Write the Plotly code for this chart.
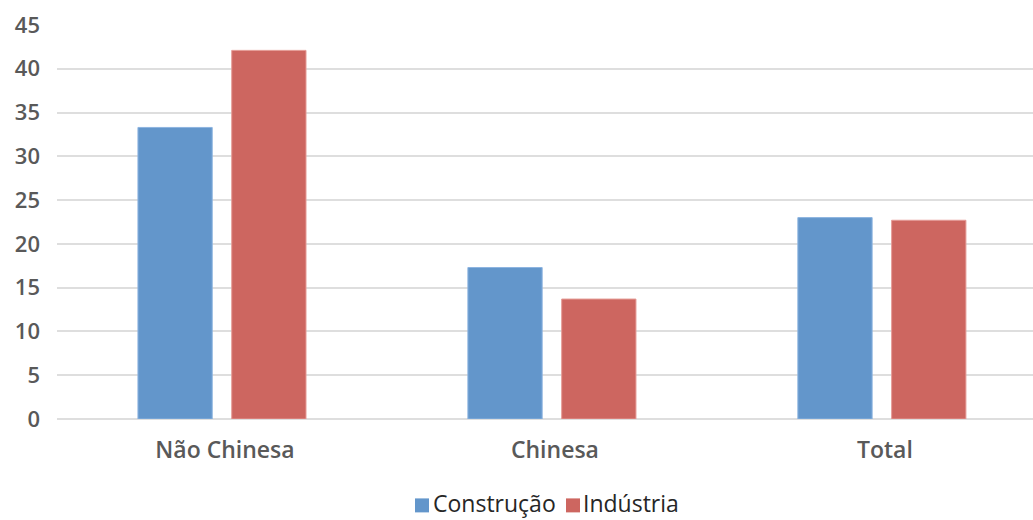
import plotly.graph_objects as go

categories = ["Não Chinesa", "Chinesa", "Total"]
construcao = [33.3, 17.3, 23.0]
industria = [42.1, 13.7, 22.7]
y_ticks = [0, 5, 10, 15, 20, 25, 30, 35, 40, 45]

series = [
    ("Construção", construcao, "#6396CB", "#8DB4E0"),
    ("Indústria", industria, "#CD6660", "#E59B96"),
]

W, H = 1033, 520
M = dict(l=57, r=0, t=25, b=100.5)
plot_w = W - M["l"] - M["r"]
plot_h = H - M["t"] - M["b"]


def px_x(x):
    return (x - M["l"]) / plot_w


def px_y(y):
    return (H - M["b"] - y) / plot_h


fig = go.Figure()
for name, vals, fill, edge in series:
    fig.add_trace(go.Bar(
        name=name, x=categories, y=vals,
        marker=dict(color=fill, line=dict(color=edge, width=1)),
        showlegend=False,
    ))

# Legend drawn as coloured squares with labels beside them
shapes = []
annotations = []
legend_items = [(432, 415), (582, 566)]
for (text_x, sq_x), (name, _, fill, _) in zip(legend_items, series):
    shapes.append(dict(
        type="rect", xref="paper", yref="paper",
        x0=px_x(sq_x), x1=px_x(sq_x + 14), y0=px_y(513), y1=px_y(499),
        fillcolor=fill, line=dict(width=0),
    ))
    annotations.append(dict(
        text=name, xref="paper", yref="paper",
        x=px_x(text_x), y=px_y(503.5), xanchor="left", yanchor="middle",
        showarrow=False, borderpad=0,
        font=dict(family="Open Sans", size=23, color="#262626"),
    ))

fig.update_layout(
    width=W, height=H,
    margin=dict(l=M["l"], r=M["r"], t=M["t"], b=M["b"], autoexpand=False),
    paper_bgcolor="white", plot_bgcolor="white",
    barmode="group", bargap=0.4315, bargroupgap=0.208,
    font=dict(family="Open Sans", size=20, color="#595959"),
    showlegend=False,
    shapes=shapes,
    annotations=annotations,
    xaxis=dict(
        range=[-0.5, 2.458], showgrid=False, showline=False, ticks="",
        ticklabelstandoff=15, ticklabelshift=3,
        tickfont=dict(family="Open Sans", size=23, color="#595959", weight=600),
    ),
    yaxis=dict(
        range=[0, 45], tickvals=y_ticks, showgrid=True,
        gridcolor="#DEDEDE", gridwidth=1.5,
        zeroline=True, zerolinecolor="#DEDEDE", zerolinewidth=1.5,
        ticks="", ticklabelstandoff=16,
        tickfont=dict(family="Open Sans", size=22, color="#595959", weight=600),
    ),
)

fig.write_html("out.html")
